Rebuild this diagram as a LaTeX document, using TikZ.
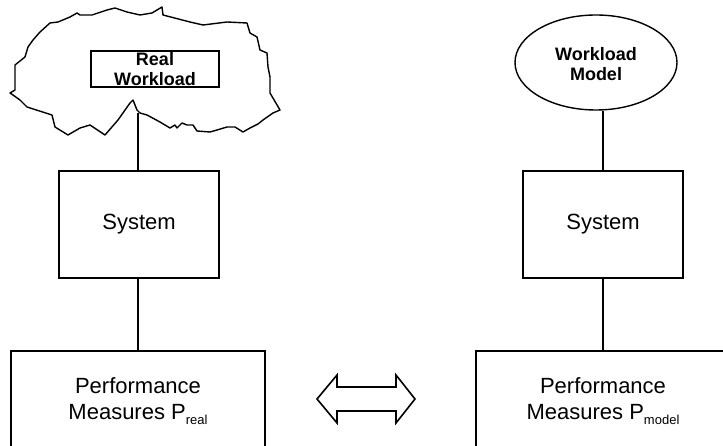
\documentclass[tikz,border=0pt]{standalone}
\usepackage{fontspec}
\setmainfont{Liberation Sans}
\usetikzlibrary{shapes.geometric}
\tikzset{
  ln/.style={line width=1.6pt, line join=miter},
  cloudln/.style={line width=1.4pt, line join=round},
  sysbox/.style={draw, line width=1.6pt, minimum width=160pt, minimum height=107pt, inner sep=0pt,
    font=\fontsize{22}{26}\selectfont},
  pmbox/.style={draw, line width=1.6pt, minimum width=254pt, minimum height=110pt, inner sep=0pt},
  pmtext/.style={align=center, inner sep=0pt, font=\fontsize{22}{26}\selectfont},
  boldtxt/.style={align=center, inner sep=0pt, font=\bfseries\fontsize{18}{20}\selectfont},
}
\newcommand{\subtxt}[1]{\raisebox{-5pt}{\fontsize{13}{13}\selectfont #1}}
\begin{document}
\begin{tikzpicture}[x=1pt,y=-1pt]
\clip (0,0) rectangle (723,446);
\fill[white] (0,0) rectangle (723,446);
% cloud
\draw[cloudln] plot coordinates {
 (162,7) (163,15) (190,22) (203,25) (227,22) (247,23) (250,33) (257,37) (260,50) (267,53)
 (268,67) (270,77) (270,93) (280,110) (273,113) (263,120) (258,124) (250,128) (243,132)
 (235,127) (227,127) (217,130) (210,132) (197,131) (193,125) (187,125) (182,123) (177,128)
 (175,125) (170,128) (160,122) (147,115) (140,113) (137,110) (133,100) (130,103) (118,120)
 (105,135) (90,125) (80,128) (68,135) (55,127) (52,115) (27,107) (20,100) (13,95) (10,93)
 (15,90) (15,65) (25,57) (28,47) (33,40) (40,32) (50,23) (58,22) (70,17) (77,13) (80,15)
 (92,15) (107,10) (115,8) (127,12) (140,15) (152,13) (162,7)} -- cycle;
\node[draw, line width=1.6pt, minimum width=128pt, minimum height=36pt, inner sep=0pt] (rw) at (155,69) {};
\node[boldtxt] (rwt) at (155,69) {Real\\Workload};
\coordinate (cloudbot) at (138,113);
% workload model
\node[ellipse, draw, line width=1.4pt, minimum width=162pt, minimum height=95pt, inner sep=0pt] (wm) at (596,62.5) {};
\node[boldtxt] (wmt) at (596,64) {Workload\\Model};
% systems
\node[sysbox] (sys1) at (139,224.5) {System};
\node[sysbox] (sys2) at (603,224.5) {System};
% performance boxes
\node[pmbox] (pm1) at (138,406) {};
\node[pmbox] (pm2) at (603,406) {};
\node[pmtext] (pm1t) at (138,401) {Performance\\Measures P\subtxt{real}};
\node[pmtext] (pm2t) at (603,401) {Performance\\Measures P\subtxt{model}};
% connectors
\draw[ln] (cloudbot) -- (cloudbot |- sys1.north);
\draw[ln] (sys1.south -| cloudbot) -- (pm1.north -| cloudbot);
\draw[ln] (wm.south -| sys2.north) -- (sys2.north);
\draw[ln] (sys2.south) -- (pm2.north);
% double arrow
\draw[ln] (317,399) -- (337,375) -- (337,387) -- (396,387) -- (396,375) -- (415,399)
  -- (396,423) -- (396,411) -- (337,411) -- (337,423) -- cycle;
\end{tikzpicture}
\end{document}
